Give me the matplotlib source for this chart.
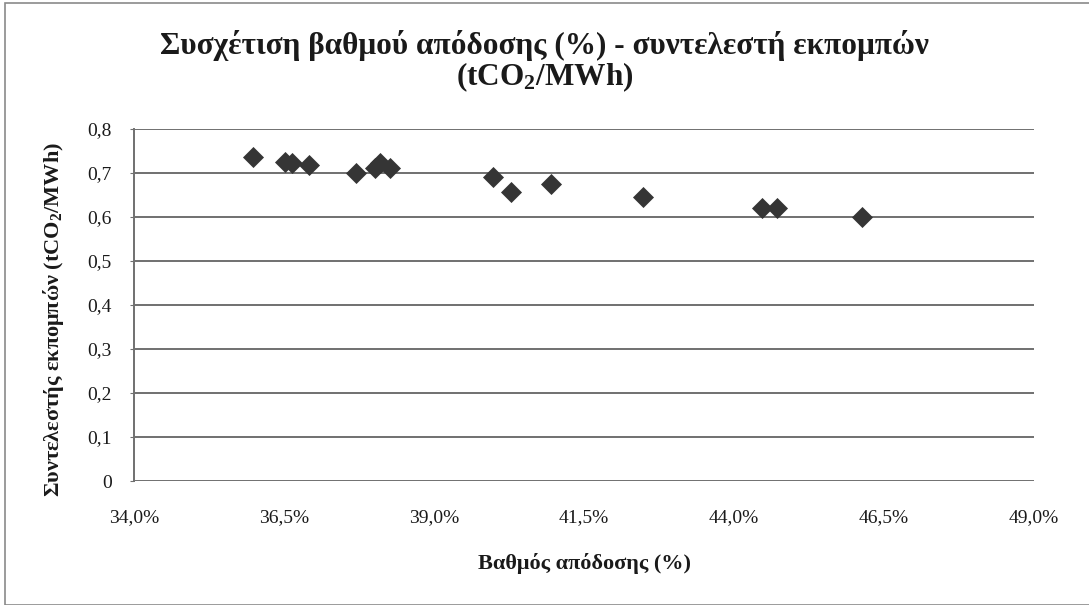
import matplotlib
matplotlib.use("Agg")
import matplotlib.pyplot as plt
from matplotlib.ticker import FixedLocator, FuncFormatter
from matplotlib.patches import Rectangle

# ---- data ----
efficiency = [35.99, 36.52, 36.64, 36.91, 37.70, 38.02, 38.10, 38.27,
              39.99, 40.28, 40.95, 42.49, 44.46, 44.71, 46.13]
emission_factor = [0.736, 0.724, 0.722, 0.718, 0.699, 0.711, 0.722, 0.711,
                   0.690, 0.656, 0.675, 0.645, 0.620, 0.620, 0.599]
x_ticks = [34.0, 36.5, 39.0, 41.5, 44.0, 46.5, 49.0]
y_ticks = [0, 0.1, 0.2, 0.3, 0.4, 0.5, 0.6, 0.7, 0.8]

title_line1 = "Συσχέτιση βαθμού απόδοσης (%) - συντελεστή εκπομπών"
title_line2 = "(tCO$_\\mathbf{2}$/MWh)"
xlabel = "Βαθμός απόδοσης (%)"
ylabel = "Συντελεστής εκπομπών (tCO$_\\mathbf{2}$/MWh)"

plt.rcParams['font.family'] = ['Liberation Serif', 'DejaVu Serif']
plt.rcParams['mathtext.fontset'] = 'custom'
plt.rcParams['mathtext.rm'] = 'Liberation Serif'
plt.rcParams['mathtext.it'] = 'Liberation Serif:italic'
plt.rcParams['mathtext.bf'] = 'Liberation Serif:bold'

W, H = 1089, 605
fig = plt.figure(figsize=(W / 100, H / 100), dpi=100)
ax = fig.add_axes([134 / W, 1 - 481 / H, 900 / W, 352 / H])

ax.scatter(efficiency, emission_factor, marker='D', s=115, color='#353535',
           zorder=3, linewidths=0)

ax.set_xlim(34.0, 49.0)
ax.set_ylim(0, 0.8)
ax.xaxis.set_major_locator(FixedLocator(x_ticks))
ax.yaxis.set_major_locator(FixedLocator(y_ticks))
ax.xaxis.set_major_formatter(FuncFormatter(lambda v, p: f"{v:.1f}%".replace('.', ',')))
ax.yaxis.set_major_formatter(FuncFormatter(lambda v, p: "0" if abs(v) < 1e-9 else f"{v:.1f}".replace('.', ',')))

ax.grid(axis='y', color='#707070', linewidth=1.4, zorder=1)
ax.set_axisbelow(True)
for s in ['top', 'right', 'bottom']:
    ax.spines[s].set_visible(False)
ax.spines['left'].set_color('#707070')
ax.spines['left'].set_linewidth(1.4)

ax.tick_params(axis='y', length=3, color='#707070', labelsize=14, pad=13, labelcolor='#1a1a1a')
ax.tick_params(axis='x', length=0, labelsize=14, pad=20, labelcolor='#1a1a1a')

fig.text(0.5, 1 - 54 / H, title_line1, ha='center', va='baseline', fontsize=22.5,
         fontweight='bold', color='#1a1a1a')
fig.text(0.5, 1 - 85 / H, title_line2, ha='center', va='baseline', fontsize=22.5,
         fontweight='bold', color='#1a1a1a')
fig.text(584 / W, 1 - 563 / H, xlabel, ha='center', va='center', fontsize=16,
         fontweight='bold', color='#1a1a1a')
fig.text(54 / W, 1 - 320 / H, ylabel, ha='center', va='center', fontsize=16,
         fontweight='bold', color='#1a1a1a', rotation=90)

fig.patches.append(Rectangle((5 / W, 0.0), 1.2, 1 - 3 / H, transform=fig.transFigure,
                             fill=False, edgecolor='#8a8a8a', linewidth=1.2))

fig.savefig("out.png", dpi=100)
